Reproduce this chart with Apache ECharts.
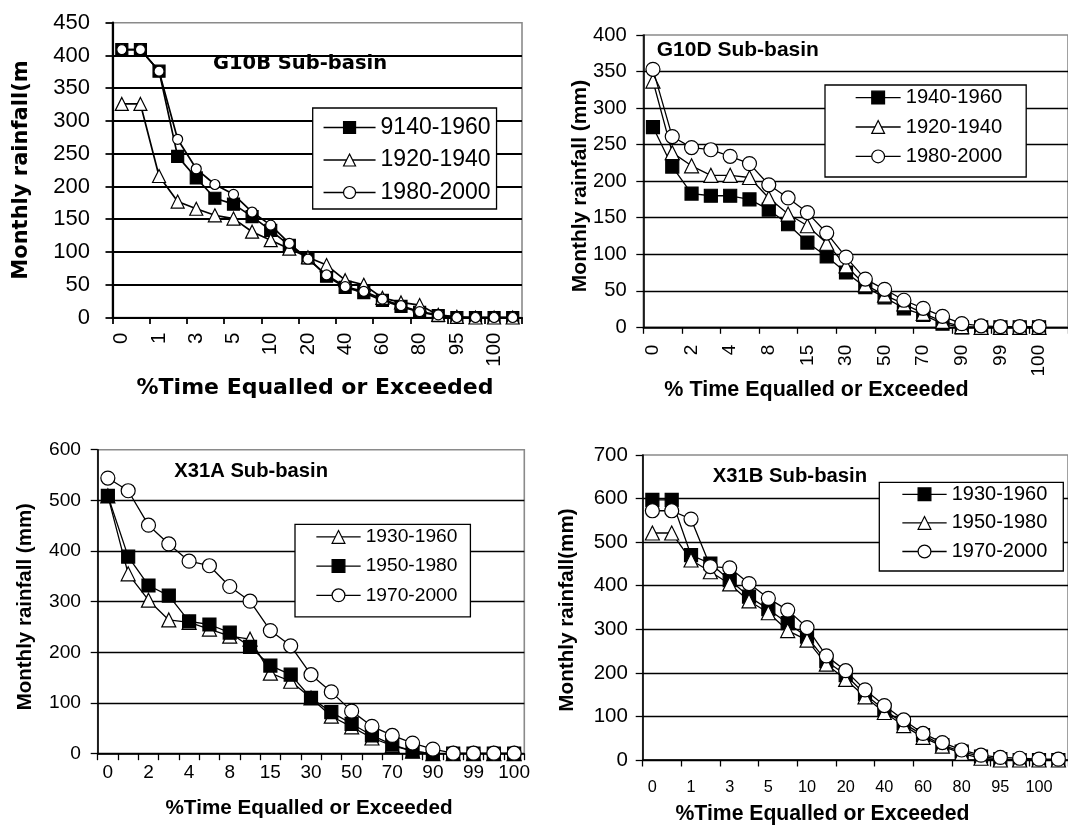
<!DOCTYPE html>
<html><head><meta charset="utf-8">
<script src="https://cdn.jsdelivr.net/npm/echarts@6/dist/echarts.min.js"></script>
<style>html,body{margin:0;padding:0;background:#fff}#c{width:1068px;height:830px}</style>
</head><body><div id="c"></div>
<script>
// ---------------- DATA ----------------
// G10B Sub-basin (labels shown on every other category)
const g10bCats = ['0','0.5','1','2','3','4','5','7.5','10','15','20','30','40','50','60','70','80','90','95','99','100','100.0'];
const g10bNames = ['9140-1960','1920-1940','1980-2000'];
const g10bA = [409,409,376,246,213,182,173,154,133,110,91,63,46,38,26,17,8,3,0,0,0,0];
const g10bB = [326,326,216,177,166,156,151,131,118,105,92,80,57,50,30,23,19,4,1,0,0,0];
const g10bC = [409,409,376,272,227,203,188,161,141,113,89,65,47,40,28,18,9,4,0,0,0,0];

// G10D Sub-basin
const g10dCats = ['0','1','2','3','4','6','8','10','15','20','30','40','50','60','70','80','90','95','99','99.5','100','100.0'];
const g10dNames = ['1940-1960','1920-1940','1980-2000'];
const g10dA = [274,220,183,180,180,175,161,141,116,97,75,55,41,26,17,5,0,0,0,0,0];
const g10dB = [337,239,221,208,208,205,177,155,139,115,84,58,44,32,19,8,1,0,0,0,0];
const g10dC = [353,261,246,243,234,224,195,177,157,129,96,66,52,37,26,15,5,2,1,1,1];

// X31A Sub-basin
const x31aCats = ['0','1','2','3','4','6','8','10','15','20','30','40','50','60','70','80','90','95','99','99.5','100'];
const x31aNames = ['1930-1960','1950-1980','1970-2000'];
const x31aA = [509,355,303,264,259,246,232,226,159,143,110,74,53,31,16,5,0,0,0,0,0];
const x31aB = [509,389,332,312,261,255,239,211,174,156,110,82,59,36,18,5,0,0,0,0,0];
const x31aC = [544,519,451,414,380,371,330,301,243,213,156,122,84,54,36,21,9,1,1,1,1];

// X31B Sub-basin
const x31bCats = ['0','0.5','1','2','3','4','5','7.5','10','15','20','30','40','50','60','70','80','90','95','99','100','100.0'];
const x31bNames = ['1930-1960','1950-1980','1970-2000'];
const x31bA = [597,597,470,451,413,375,346,314,283,227,195,151,115,84,57,34,19,8,2,0,0,0];
const x31bB = [521,521,459,432,404,365,338,297,275,220,185,145,109,79,52,32,15,4,0,0,0,0];
const x31bC = [572,572,553,444,441,405,371,344,304,239,205,161,125,92,61,40,23,11,6,4,2,2];

// ---------------- STYLE / LAYOUT ----------------
const ARIAL = '"Liberation Sans", Arial, sans-serif';
const WIDE = '"DejaVu Sans", sans-serif';
const SYM = {
  square: {symbol:'rect', fill:'#000'},
  tri: {symbol:'triangle', fill:'#fff'},
  circ: {symbol:'circle', fill:'#fff'}
};

const panels = [
  {id:'G10B', cats:g10bCats, names:g10bNames, values:[g10bA,g10bB,g10bC], kinds:['square','tri','circ'],
   symSizes:[12,13,10], lineW:1.7, gridW:2, axisW:2.2,
   grid:{left:112.5, top:22.7, width:409.5, height:294.8}, max:450, interval:50,
   yFont:22, yMargin:22.5, xFont:20.5, xMargin:15, xRotate:90, tickInt:1,
   legend:{left:312.7, top:108, padding:[8,6,5,10], itemWidth:52, itemHeight:15, itemGap:9.5, fontSize:23, textGap:5},
   texts:[
     {t:'G10B Sub-basin', x:213, y:64, font:'bold 19.5px '+WIDE, align:'left'},
     {t:'Monthly rainfall(m', x:21.7, y:170, font:'bold 21px '+WIDE, align:'center', rot:true},
     {t:'%Time Equalled or Exceeded', x:315, y:388, font:'bold 22px '+WIDE, align:'center'}
   ]},
  {id:'G10D', cats:g10dCats, names:g10dNames, values:[g10dA,g10dB,g10dC], kinds:['square','tri','circ'],
   symSizes:[13,14,14], lineW:1.3, gridW:1.4, axisW:1.6,
   grid:{left:643.3, top:35, width:426.8, height:292.3}, max:400, interval:50,
   yFont:20.2, yMargin:16.5, xFont:19, xMargin:17.5, xRotate:90, tickInt:1,
   legend:{left:825, top:85, padding:[2.5,24,10.5,30], itemWidth:45, itemHeight:16, itemGap:9.2, fontSize:20.2, textGap:8},
   texts:[
     {t:'G10D Sub-basin', x:656.7, y:50.7, font:'bold 21px '+ARIAL, align:'left'},
     {t:'Monthly rainfall (mm)', x:580, y:186, font:'bold 21px '+ARIAL, align:'center', rot:true},
     {t:'% Time Equalled or Exceeded', x:816.5, y:390, font:'bold 21.5px '+ARIAL, align:'center'}
   ]},
  {id:'X31A', cats:x31aCats, names:x31aNames, values:[x31aA,x31aB,x31aC], kinds:['tri','square','circ'],
   symSizes:[14,13,14], lineW:1.3, gridW:1.4, axisW:1.6,
   grid:{left:97.7, top:449.7, width:426.6, height:304}, max:600, interval:100,
   yFont:19.2, yMargin:16.7, xFont:19, xMargin:10, xRotate:0, tickInt:0,
   legend:{left:295, top:524.3, padding:[3,13,12,20.7], itemWidth:44.3, itemHeight:16, itemGap:10, fontSize:19.2, textGap:5.7},
   texts:[
     {t:'X31A Sub-basin', x:174.3, y:471, font:'bold 20.2px '+ARIAL, align:'left'},
     {t:'Monthly rainfall (mm)', x:25, y:606.7, font:'bold 20.5px '+ARIAL, align:'center', rot:true},
     {t:'%Time Equalled or Exceeded', x:309, y:808, font:'bold 20.7px '+ARIAL, align:'center'}
   ]},
  {id:'X31B', cats:x31bCats, names:x31bNames, values:[x31bA,x31bB,x31bC], kinds:['square','tri','circ'],
   symSizes:[13,14,14], lineW:1.3, gridW:1.4, axisW:1.6,
   grid:{left:642.7, top:455, width:427.9, height:305}, max:700, interval:100,
   yFont:20.5, yMargin:14.8, xFont:16.3, xMargin:19.5, xRotate:0, tickInt:1,
   legend:{left:879.3, top:482.3, padding:[2,16,9.5,22.4], itemWidth:44.3, itemHeight:16, itemGap:8.6, fontSize:20, textGap:5.7},
   texts:[
     {t:'X31B Sub-basin', x:712.7, y:476, font:'bold 20.3px '+ARIAL, align:'left'},
     {t:'Monthly rainfall(mm)', x:567.7, y:610, font:'bold 20.7px '+ARIAL, align:'center', rot:true},
     {t:'%Time Equalled or Exceeded', x:822.5, y:814, font:'bold 21.2px '+ARIAL, align:'center'}
   ]}
];

const option = {
  backgroundColor:'#fff', animation:false,
  grid:[], xAxis:[], yAxis:[], series:[], legend:[], graphic:{elements:[]}
};

panels.forEach((p, gi) => {
  option.grid.push(Object.assign({show:true, borderColor:'#8a8a8a', borderWidth:1.6, backgroundColor:'transparent', containLabel:false}, p.grid));
  option.xAxis.push({
    type:'category', gridIndex:gi, data:p.cats, boundaryGap:true,
    axisLine:{lineStyle:{color:'#000', width:p.axisW}},
    axisTick:{show:true, interval:p.tickInt, length:6.5, inside:false, lineStyle:{color:'#000', width:p.axisW*0.8}},
    axisLabel:{interval:1, rotate:p.xRotate, margin:p.xMargin, color:'#000', fontFamily:ARIAL, fontSize:p.xFont, hideOverlap:false},
    splitLine:{show:false}
  });
  option.yAxis.push({
    type:'value', gridIndex:gi, min:0, max:p.max, interval:p.interval,
    axisLine:{show:true, lineStyle:{color:'#000', width:p.axisW}},
    axisTick:{show:true, length:7, lineStyle:{color:'#000', width:p.axisW*0.8}},
    axisLabel:{margin:p.yMargin, color:'#000', fontFamily:ARIAL, fontSize:p.yFont},
    splitLine:{show:true, showMaxLine:false, lineStyle:{color:'#000', width:p.gridW}}
  });
  const legendData = [];
  p.names.forEach((nm, si) => {
    const k = SYM[p.kinds[si]];
    const full = nm + '#' + p.id;
    legendData.push(full);
    option.series.push({
      type:'line', name:full, xAxisIndex:gi, yAxisIndex:gi, data:p.values[si],
      symbol:k.symbol, symbolSize:p.symSizes[si], showAllSymbol:true,
      lineStyle:{color:'#000', width:p.lineW},
      itemStyle:{color:k.fill, borderColor:'#000', borderWidth:1.2, opacity:1},
      emphasis:{disabled:true}, z:2+si
    });
  });
  const L = p.legend;
  option.legend.push({
    data:legendData, orient:'vertical', left:L.left, top:L.top, padding:L.padding,
    itemWidth:L.itemWidth, itemHeight:L.itemHeight, itemGap:L.itemGap, itemTextGap:L.textGap,
    backgroundColor:'#fff', borderColor:'#000', borderWidth:1.3, borderRadius:0,
    selectedMode:false, formatter: n => n.split('#')[0],
    itemStyle:{borderWidth:1.2, borderColor:'#000'},
    lineStyle:{width:p.lineW, color:'#000'},
    textStyle:{color:'#000', fontFamily:ARIAL, fontSize:L.fontSize, lineHeight:L.fontSize},
    z:10
  });
  p.texts.forEach(t => {
    option.graphic.elements.push({
      type:'text', x:t.x, y:t.y, rotation: t.rot ? Math.PI/2 : 0, z:20,
      style:{text:t.t, font:t.font, fill:'#000', textAlign:t.align, textVerticalAlign:'middle', align:t.align, verticalAlign:'middle'}
    });
  });
});

const chart = echarts.init(document.getElementById('c'), null, {renderer:'canvas'});
chart.setOption(option);
</script>
</body></html>
